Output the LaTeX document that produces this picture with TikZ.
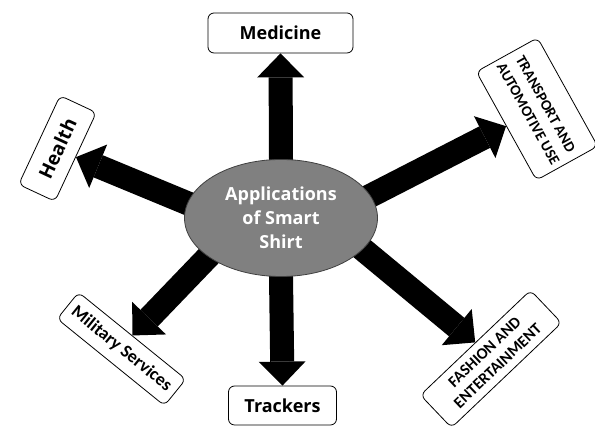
\documentclass[tikz,border=0pt]{standalone}
\usepackage{fontspec}
\setmainfont{Open Sans}
\newfontfamily\calib{Carlito}
\usetikzlibrary{arrows.meta,shapes.geometric,backgrounds}
\begin{document}
\begin{tikzpicture}[x=1pt,y=1pt,
  box/.style={draw=black, line width=0.8pt, rounded corners=6pt, fill=white, align=center, inner sep=0pt},
  bigarrow/.style={line width=24pt, -{Triangle[length=24pt,width=47pt,line width=0pt]}, shorten <=-14pt}
]
\useasboundingbox (0,0) rectangle (595,427);
\node[ellipse, draw=black!75, line width=0.8pt, fill=black!50, minimum width=193pt, minimum height=117pt, inner sep=0pt, align=center, text=white, font=\bfseries\fontsize{18}{24}\selectfont] (app) at (281,209) {Applications\\of Smart\\Shirt};

\node[box, minimum width=145pt, minimum height=40pt, font=\bfseries\fontsize{18}{20}\selectfont] (med) at (280.5,394) {Medicine};
\node[box, minimum width=108pt, minimum height=39pt, font=\bfseries\fontsize{18}{20}\selectfont] (track) at (282.5,21.5) {Trackers};
\node[box, minimum width=98pt, minimum height=40pt, rotate=65, font=\bfseries\fontsize{19}{20}\selectfont] (health) at (57.5,278.5) {Health};
\node[box, minimum width=124pt, minimum height=70pt, rotate=-61, font=\calib\bfseries\fontsize{15}{20}\selectfont] (transport) at (537,318) {TRANSPORT AND\\AUTOMOTIVE USE};
\node[box, minimum width=138pt, minimum height=34pt, rotate=-39, font=\calib\bfseries\fontsize{18}{20}\selectfont] (military) at (121.5,78) {Military Services};
\node[box, minimum width=152pt, minimum height=45pt, rotate=43.6, font=\calib\bfseries\fontsize{16}{19}\selectfont] (fashion) at (491,68) {FASHION AND\\ENTERTAINMENT};

\begin{scope}[on background layer]
\draw[bigarrow] (app.north) -- (med.south);
\draw[bigarrow] (app.south) -- (track.north);
\draw[bigarrow] (app.171) -- (health.south);
\draw[bigarrow] (app.14) -- (transport.south);
\draw[bigarrow] (app.208) -- (military.north);
\draw[bigarrow] (app.339) -- (fashion.north);
\end{scope}
\end{tikzpicture}
\end{document}
